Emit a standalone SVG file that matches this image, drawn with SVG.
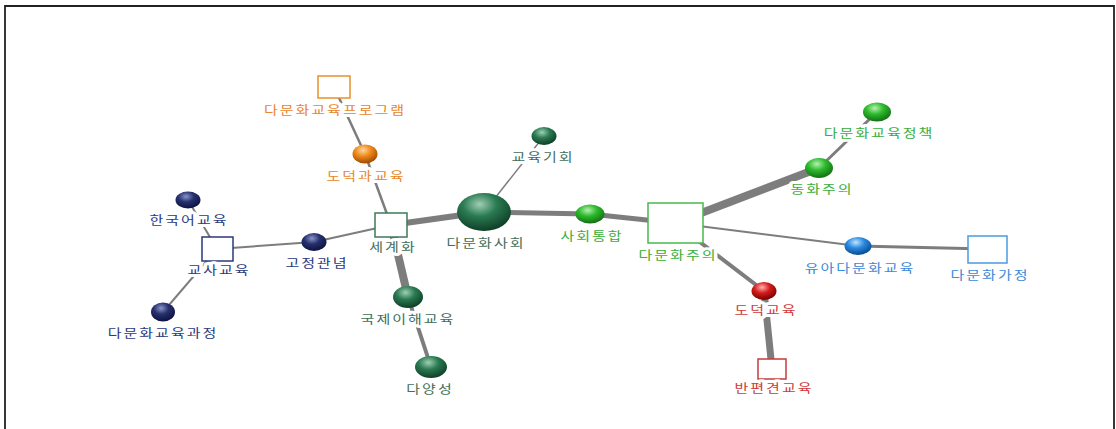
<svg xmlns="http://www.w3.org/2000/svg" width="1116" height="429" viewBox="0 0 1116 429">
<defs>
<style>
text{font-family:"Noto Sans CJK KR","Noto Sans",sans-serif;font-size:12px;letter-spacing:1.6px;text-anchor:middle;paint-order:stroke;stroke:#fff;stroke-width:6px;stroke-linejoin:round}
.e{stroke:#7d7d7d;stroke-linecap:butt;fill:none}
.box{fill:#fff;stroke-width:1.5}
.navy{fill:#2b3a7c}.dg{fill:#3f6e5a}.gr{fill:#3aae3a}.or{fill:#e8862a}.bl{fill:#3a8ad8}.rd{fill:#d03a3a}
</style>
<radialGradient id="gNavy" cx="0.42" cy="0.3" r="0.7"><stop offset="0" stop-color="#8a95c8"/><stop offset="0.45" stop-color="#26306e"/><stop offset="1" stop-color="#0c1240"/></radialGradient>
<radialGradient id="gDg" cx="0.42" cy="0.3" r="0.7"><stop offset="0" stop-color="#9fcfb4"/><stop offset="0.45" stop-color="#2a7a52"/><stop offset="1" stop-color="#0f3f26"/></radialGradient>
<radialGradient id="gGr" cx="0.42" cy="0.3" r="0.7"><stop offset="0" stop-color="#b8f0b0"/><stop offset="0.45" stop-color="#2dbb2d"/><stop offset="1" stop-color="#127012"/></radialGradient>
<radialGradient id="gOr" cx="0.42" cy="0.3" r="0.7"><stop offset="0" stop-color="#ffd9a0"/><stop offset="0.45" stop-color="#f08a1c"/><stop offset="1" stop-color="#a04a00"/></radialGradient>
<radialGradient id="gBl" cx="0.42" cy="0.3" r="0.7"><stop offset="0" stop-color="#c0e4ff"/><stop offset="0.45" stop-color="#2a8ae0"/><stop offset="1" stop-color="#0a4a90"/></radialGradient>
<radialGradient id="gRd" cx="0.42" cy="0.3" r="0.7"><stop offset="0" stop-color="#ffb0b0"/><stop offset="0.45" stop-color="#d41c1c"/><stop offset="1" stop-color="#7a0000"/></radialGradient>
</defs>
<rect width="1116" height="429" fill="#fff"/>
<path d="M5,429 V6 H1114 V429" fill="none" stroke="#222" stroke-width="1.8"/>
<g id="connectors">
<line class="e" x1="334" y1="87" x2="365" y2="154" stroke-width="2.5"/>
<line class="e" x1="365" y1="154" x2="391" y2="225" stroke-width="2.5"/>
<line class="e" x1="391" y1="225" x2="484" y2="212" stroke-width="6"/>
<line class="e" x1="391" y1="225" x2="314" y2="242" stroke-width="2"/>
<line class="e" x1="314" y1="242" x2="217" y2="249" stroke-width="2"/>
<line class="e" x1="217" y1="249" x2="188" y2="200" stroke-width="2"/>
<line class="e" x1="217" y1="249" x2="163" y2="312" stroke-width="2"/>
<line class="e" x1="391" y1="225" x2="408" y2="297" stroke-width="8"/>
<line class="e" x1="408" y1="297" x2="431" y2="367" stroke-width="4"/>
<line class="e" x1="484" y1="212" x2="544" y2="136" stroke-width="1.5"/>
<line class="e" x1="484" y1="212" x2="590" y2="214" stroke-width="5"/>
<line class="e" x1="590" y1="214" x2="675" y2="223" stroke-width="5"/>
<line class="e" x1="675" y1="223" x2="819" y2="168" stroke-width="8"/>
<line class="e" x1="819" y1="168" x2="877" y2="112" stroke-width="3"/>
<line class="e" x1="675" y1="223" x2="858" y2="246" stroke-width="2"/>
<line class="e" x1="858" y1="246" x2="987" y2="249" stroke-width="3"/>
<line class="e" x1="675" y1="223" x2="764" y2="291" stroke-width="4"/>
<line class="e" x1="764" y1="291" x2="772" y2="369" stroke-width="7"/>
</g>
<g id="n-program"><rect class="box" x="318" y="76" width="32" height="22" stroke="#e8902a"/><text class="or" transform="translate(335,115) scale(1.25,1)">다문화교육프로그램</text></g>
<g id="n-dodeokgwa"><ellipse cx="365" cy="154" rx="12.5" ry="9.5" fill="url(#gOr)"/><text class="or" transform="translate(366,181) scale(1.25,1)">도덕과교육</text></g>
<g id="n-segyehwa"><rect class="box" x="375" y="213" width="32" height="24" stroke="#3d7a5a"/><text class="dg" transform="translate(393,252) scale(1.25,1)">세계화</text></g>
<g id="n-damunhwasahoe"><ellipse cx="484" cy="212" rx="27" ry="19" fill="url(#gDg)"/><text class="dg" transform="translate(486,248) scale(1.25,1)">다문화사회</text></g>
<g id="n-gyoyukgihoe"><ellipse cx="544" cy="136" rx="12.5" ry="9" fill="url(#gDg)"/><text class="dg" transform="translate(543,162) scale(1.25,1)">교육기회</text></g>
<g id="n-gukje"><ellipse cx="408" cy="297" rx="15" ry="11" fill="url(#gDg)"/><text class="dg" transform="translate(408,324) scale(1.25,1)">국제이해교육</text></g>
<g id="n-dayangseong"><ellipse cx="431" cy="367" rx="16" ry="11" fill="url(#gDg)"/><text class="dg" transform="translate(430,394) scale(1.25,1)">다양성</text></g>
<g id="n-gojeong"><ellipse cx="314" cy="242" rx="12.5" ry="9" fill="url(#gNavy)"/><text class="navy" transform="translate(317,268) scale(1.25,1)">고정관념</text></g>
<g id="n-gyosa"><rect class="box" x="202" y="237" width="31" height="24" stroke="#2b3a7c"/><text class="navy" transform="translate(219,275) scale(1.25,1)">교사교육</text></g>
<g id="n-hangugeo"><ellipse cx="188" cy="200" rx="12.5" ry="8.5" fill="url(#gNavy)"/><text class="navy" transform="translate(189,225) scale(1.25,1)">한국어교육</text></g>
<g id="n-gwajeong"><ellipse cx="163" cy="312" rx="12" ry="9.5" fill="url(#gNavy)"/><text class="navy" transform="translate(163,338) scale(1.25,1)">다문화교육과정</text></g>
<g id="n-sahoetonghap"><ellipse cx="590" cy="214" rx="14.5" ry="9.5" fill="url(#gGr)"/><text class="gr" transform="translate(592,241) scale(1.25,1)">사회통합</text></g>
<g id="n-damunhwajuui"><rect class="box" x="648" y="203" width="55" height="40" stroke="#4ab84a"/><text class="gr" transform="translate(678,260) scale(1.25,1)">다문화주의</text></g>
<g id="n-donghwa"><ellipse cx="819" cy="168" rx="14" ry="10" fill="url(#gGr)"/><text class="gr" transform="translate(822,194) scale(1.25,1)">동화주의</text></g>
<g id="n-jeongchaek"><ellipse cx="877" cy="112" rx="14" ry="9.5" fill="url(#gGr)"/><text class="gr" transform="translate(879,138) scale(1.25,1)">다문화교육정책</text></g>
<g id="n-yua"><ellipse cx="858" cy="246" rx="13.5" ry="9" fill="url(#gBl)"/><text class="bl" transform="translate(860,273) scale(1.25,1)">유아다문화교육</text></g>
<g id="n-gajeong"><rect class="box" x="968" y="236" width="39" height="27" stroke="#4a9ae0"/><text class="bl" transform="translate(990,280) scale(1.25,1)">다문화가정</text></g>
<g id="n-dodeok"><ellipse cx="764" cy="291" rx="12.5" ry="9" fill="url(#gRd)"/><text class="rd" transform="translate(766,315) scale(1.25,1)">도덕교육</text></g>
<g id="n-banpyeongyeon"><rect class="box" x="758" y="359" width="28" height="20" stroke="#c83a3a"/><text class="rd" transform="translate(774,393) scale(1.25,1)">반편견교육</text></g>
</svg>
